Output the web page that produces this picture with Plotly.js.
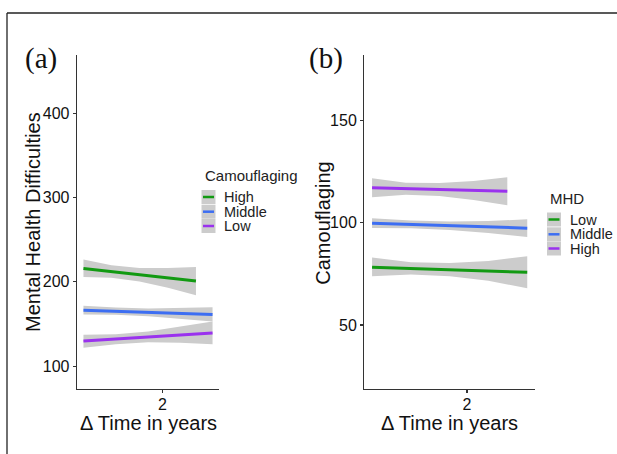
<!DOCTYPE html>
<html>
<head>
<meta charset="utf-8">
<script src="https://cdn.plot.ly/plotly-3.0.1.min.js"></script>
<style>html,body{margin:0;padding:0;background:#fff}#chart{width:617px;height:454px}</style>
</head>
<body>
<div id="chart"></div>
<script>
// ---------------- data ----------------
// time points (Δ years) at which the fitted lines / CI bands were read
var timeLong = [0, 0.82, 1.64, 2.45, 3.27];
var timeHigh = [0, 0.71, 1.42, 2.14, 2.85];

// Panel (a): Mental Health Difficulties by Camouflaging group
var aGroups = ["High", "Middle", "Low"];
var aHighFit = [216, 212.2, 208.5, 204.8, 201];
var aHighUpper = [226.4, 219.6, 216.6, 216.6, 217.6];
var aHighLower = [205.7, 204.9, 200.5, 192.9, 184.3];
var aMidFit = [166.5, 165.2, 163.9, 162.7, 161.4];
var aMidUpper = [171.6, 169.5, 168.5, 168.9, 170.0];
var aMidLower = [161.4, 160.9, 159.3, 156.5, 152.9];
var aLowFit = [130.0, 132.4, 134.7, 137.1, 139.5];
var aLowUpper = [137.2, 137.9, 141.3, 146.7, 153.0];
var aLowLower = [122.0, 126.0, 128.3, 127.7, 126.1];

// Panel (b): Camouflaging by MHD group
var bGroups = ["Low", "Middle", "High"];
var bLowFit = [78.3, 77.7, 77.1, 76.5, 75.8];
var bLowUpper = [83.0, 80.7, 80.3, 81.3, 83.7];
var bLowLower = [73.8, 74.7, 73.8, 71.6, 68.0];
var bMidFit = [99.8, 99.2, 98.6, 97.9, 97.4];
var bMidUpper = [102.2, 101.1, 100.7, 100.9, 101.7];
var bMidLower = [97.5, 97.3, 96.5, 95.0, 93.1];
var bHighFit = [117.1, 116.7, 116.3, 115.9, 115.4];
var bHighUpper = [121.8, 119.6, 119.5, 120.5, 122.3];
var bHighLower = [112.5, 113.7, 113.1, 111.2, 108.6];

var aYTicks = [100, 200, 300, 400];
var bYTicks = [50, 100, 150];
var xTicks = [2];
var xTickText = ["2"];

// ---------------- styling ----------------
var GREEN = "#129a12", BLUE = "#3d6ef2", PURPLE = "#9a32ee", BAND = "#cccccc";
var FONT = "Liberation Sans, Arial, sans-serif";
var W = 617, H = 454;
function px(x) { return x / W; }
function py(y) { return 1 - y / H; }

function band(t, up, lo, xa, ya) {
  return {x: t.concat(t.slice().reverse()), y: up.concat(lo.slice().reverse()),
    xaxis: xa, yaxis: ya, type: "scatter", mode: "lines", fill: "toself",
    fillcolor: BAND, line: {width: 0, color: BAND}, hoverinfo: "skip", showlegend: false};
}
function fit(t, v, color, name, xa, ya) {
  return {x: t, y: v, xaxis: xa, yaxis: ya, type: "scatter", mode: "lines", name: name,
    line: {color: color, width: 3}, showlegend: false};
}

var traces = [
  band(timeHigh, aHighUpper, aHighLower, "x", "y"),
  band(timeLong, aMidUpper, aMidLower, "x", "y"),
  band(timeLong, aLowUpper, aLowLower, "x", "y"),
  band(timeLong, bLowUpper, bLowLower, "x2", "y2"),
  band(timeLong, bMidUpper, bMidLower, "x2", "y2"),
  band(timeHigh, bHighUpper, bHighLower, "x2", "y2"),
  fit(timeHigh, aHighFit, GREEN, aGroups[0], "x", "y"),
  fit(timeLong, aMidFit, BLUE, aGroups[1], "x", "y"),
  fit(timeLong, aLowFit, PURPLE, aGroups[2], "x", "y"),
  fit(timeLong, bLowFit, GREEN, bGroups[0], "x2", "y2"),
  fit(timeLong, bMidFit, BLUE, bGroups[1], "x2", "y2"),
  fit(timeHigh, bHighFit, PURPLE, bGroups[2], "x2", "y2")
];

function ax(extra) {
  var base = {showline: true, linecolor: "#333", linewidth: 1.3, ticks: "outside",
    ticklen: 3, tickcolor: "#333", tickwidth: 1.1, showgrid: false, zeroline: false,
    tickfont: {family: FONT, size: 16, color: "#111"}, fixedrange: true, automargin: false};
  for (var k in extra) base[k] = extra[k];
  return base;
}

var xr = [-0.1635, 3.4335];
var layout = {
  width: W, height: H, margin: {l: 0, r: 0, t: 0, b: 0, pad: 0},
  font: {family: FONT, size: 16, color: "#111"},
  paper_bgcolor: "#fff", plot_bgcolor: "#fff", showlegend: false,
  xaxis: ax({domain: [px(77), px(219)], range: xr, tickmode: "array", tickvals: xTicks, ticktext: xTickText, anchor: "y", ticklabelstandoff: -3}),
  yaxis: ax({domain: [py(389), py(55)], range: [73, 469], tickmode: "array", tickvals: aYTicks, anchor: "x"}),
  xaxis2: ax({domain: [px(364.3), px(535)], range: xr, tickmode: "array", tickvals: xTicks, ticktext: xTickText, anchor: "y2", ticklabelstandoff: -3}),
  yaxis2: ax({domain: [py(389), py(55)], range: [18.7, 182.1], tickmode: "array", tickvals: bYTicks, anchor: "x2"}),
  shapes: [], annotations: []
};

function ann(text, x, y, size, opts) {
  var a = {text: text, x: px(x), y: py(y), xref: "paper", yref: "paper",
    showarrow: false, font: {family: FONT, size: size, color: "#111"}, xanchor: "center", yanchor: "middle"};
  for (var k in (opts || {})) a[k] = opts[k];
  layout.annotations.push(a);
}
// Axis titles
ann("Mental Health Difficulties", 33, 222, 20, {textangle: -90});
ann("Camouflaging", 322.7, 223, 20, {textangle: -90});
ann("Δ Time in years", 148, 423, 20);
ann("Δ Time in years", 449.5, 423, 20);
// Panel labels
var SERIF = {family: "Liberation Serif, Times New Roman, serif", size: 29, color: "#111"};
ann("(a)", 41, 58, 29, {font: SERIF});
ann("(b)", 325.5, 58, 29, {font: SERIF});

// Manual legends (grey key box with coloured line, as in ggplot)
function legend(title, names, colors, x0, titleY, rowY) {
  ann(title, x0, titleY, 15, {xanchor: "left", font: {family: FONT, size: 15, color: "#222"}});
  for (var i = 0; i < names.length; i++) {
    layout.shapes.push({type: "rect", xref: "paper", yref: "paper",
      x0: px(x0 - 1), x1: px(x0 + 13), y0: py(rowY[i] - 7), y1: py(rowY[i] + 7),
      fillcolor: BAND, line: {width: 0}});
    layout.shapes.push({type: "line", xref: "paper", yref: "paper",
      x0: px(x0 + 0.5), x1: px(x0 + 11.5), y0: py(rowY[i]), y1: py(rowY[i]),
      line: {color: colors[i], width: 2.5}});
    ann(names[i], x0 + 20, rowY[i], 14.5, {xanchor: "left", font: {family: FONT, size: 14.5, color: "#222"}});
  }
}
legend("Camouflaging", aGroups, [GREEN, BLUE, PURPLE], 202.5, 175.7, [197, 211.7, 226]);
legend("MHD", bGroups, [GREEN, BLUE, PURPLE], 548, 199, [219.5, 234.3, 248.5]);

// Outer frame (top and left edges)
layout.shapes.push({type: "line", xref: "paper", yref: "paper", x0: px(7), x1: 1, y0: py(13), y1: py(13), line: {color: "#222", width: 1.3}});
layout.shapes.push({type: "line", xref: "paper", yref: "paper", x0: px(7), x1: px(7), y0: py(13), y1: 0, line: {color: "#222", width: 1.3}});

Plotly.newPlot("chart", traces, layout, {staticPlot: true, displayModeBar: false});
</script>
</body>
</html>
